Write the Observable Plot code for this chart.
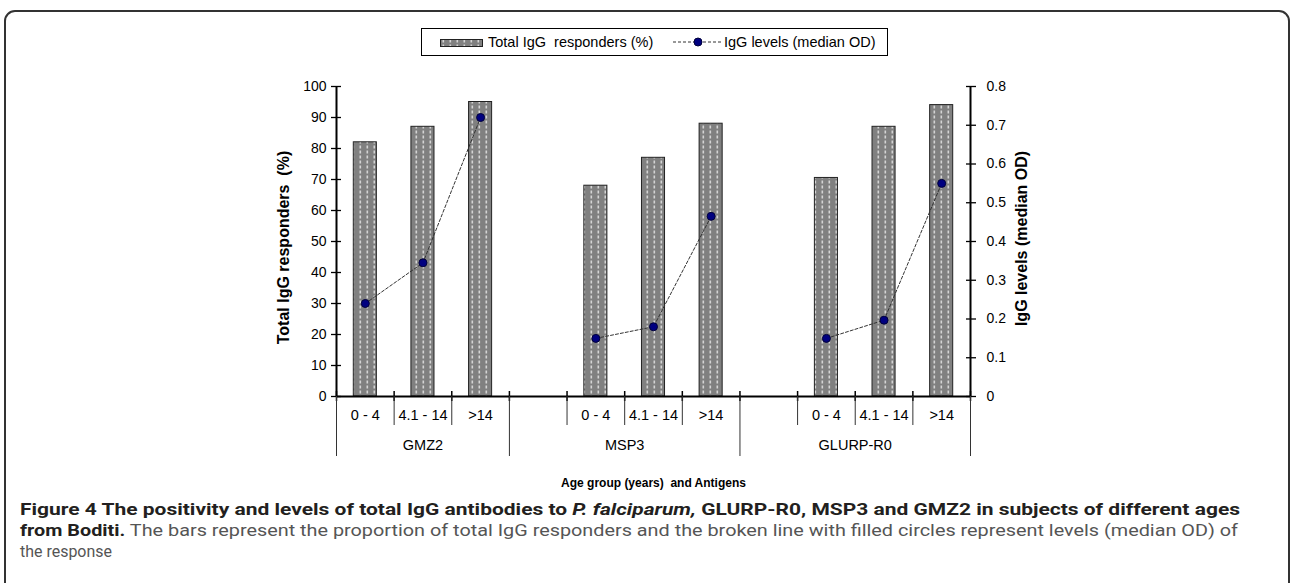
<!DOCTYPE html>
<html><head><meta charset="utf-8">
<script src="https://cdn.jsdelivr.net/npm/d3@7"></script>
<script src="https://cdn.jsdelivr.net/npm/@observablehq/plot@0.6"></script>
<style>
body{margin:0;width:1292px;height:583px;overflow:hidden;background:#fff;font-family:"Liberation Sans",Arial,sans-serif;position:relative}
#frame{position:absolute;left:4px;top:10px;width:1286px;height:640px;border:2px solid #333;border-radius:11px 11px 0 0;box-sizing:border-box}
#chart{position:absolute;left:0;top:0}
#legend{position:absolute;left:421px;top:28px;width:467px;height:28px;border:1px solid #000;box-sizing:border-box;font-size:14.5px;background:#fff}
#legend .t{position:absolute;top:5px;white-space:pre;color:#000;line-height:17px}
#legend svg{position:absolute}
#caption{position:absolute;left:0;top:495px}
</style></head><body>
<div id="frame"></div>
<div id="chart"></div>
<div id="legend">
  <svg style="left:18px;top:10px" width="43" height="8"><rect x="0.5" y="0.5" width="42" height="7" fill="url(#barpat)" stroke="#222" stroke-width="1"/></svg>
  <div class="t" style="left:66px">Total IgG  responders (%)</div>
  <svg style="left:251px;top:6px" width="50" height="14"><line x1="0" y1="7" x2="48" y2="7" stroke="#333" stroke-width="1" stroke-dasharray="3,2"/><circle cx="25" cy="7" r="4" fill="#000080" stroke="#00003a"/></svg>
  <div class="t" style="left:302px">IgG levels (median OD)</div>
</div>
<svg id="caption" width="1292" height="88" font-family="Roboto, 'Noto Sans', sans-serif" font-size="17">
  <text x="20" y="20" textLength="1220" lengthAdjust="spacingAndGlyphs" font-weight="bold" fill="#231f20">Figure 4 The positivity and levels of total IgG antibodies to <tspan font-style="italic">P. falciparum,</tspan> GLURP-R0, MSP3 and GMZ2 in subjects of different ages</text>
  <text x="20" y="41" textLength="1218" lengthAdjust="spacingAndGlyphs"><tspan font-weight="bold" fill="#231f20">from Boditi.</tspan><tspan fill="#555"> The bars represent the proportion of total IgG responders and the broken line with filled circles represent levels (median OD) of</tspan></text>
  <text x="20" y="62" textLength="92" lengthAdjust="spacingAndGlyphs" fill="#555">the response</text>
</svg>
<script>
// ---- data ----
const groups = ["GMZ2", "MSP3", "GLURP-R0"];
const ageGroups = ["0 - 4", "4.1 - 14", ">14"];
const responders = [82, 87, 95, 68, 77, 88, 70.5, 87, 94];          // Total IgG responders (%)
const levels = [0.24, 0.345, 0.72, 0.15, 0.18, 0.465, 0.15, 0.197, 0.55]; // IgG levels (median OD)
const leftTicks = [0, 10, 20, 30, 40, 50, 60, 70, 80, 90, 100];
const rightTicks = [0, 0.1, 0.2, 0.3, 0.4, 0.5, 0.6, 0.7, 0.8];
const yTitle = "Total IgG responders  (%)";
const y2Title = "IgG levels (median OD)";
const xTitle = "Age group (years)  and Antigens";

// ---- table ----
const K = 100 / 0.8; // right axis (OD) to left axis (%)
const rows = [];
groups.forEach((g, gi) => ageGroups.forEach((a, ai) => rows.push({
  group: g, age: a, slot: 4 * gi + ai, pct: responders[gi * 3 + ai], od: levels[gi * 3 + ai]
})));
const nSlots = 4 * groups.length - 1;
const groupStart = gi => gi === 0 ? 0 : 4 * gi - 1;
const groupEnd = gi => 4 * gi + 3;
const groupEdges = [0, ...groups.map((g, gi) => groupEnd(gi))];
const allEdges = d3.range(0, nSlots + 1);
const innerEdges = allEdges.filter(b => !groupEdges.includes(b));
const ageLabel = new Map(rows.map(d => [d.slot + 0.5, d.age]));
const groupCenters = groups.map((g, gi) => (groupStart(gi) + groupEnd(gi)) / 2);
const groupLabel = new Map(groups.map((g, gi) => [groupCenters[gi], g]));

const plot = Plot.plot({
  width: 1292, height: 500,
  marginLeft: 336, marginRight: 322, marginTop: 86, marginBottom: 104,
  x: {domain: [0, nSlots], label: null},
  y: {domain: [0, 100], label: null},
  style: {fontFamily: "'Liberation Sans', Arial, sans-serif", fontSize: "14px", color: "#000", background: "transparent"},
  marks: [
    Plot.rectY(rows, {x1: d => d.slot + 0.3, x2: d => d.slot + 0.7, y: "pct", fill: "url(#barpat)", stroke: "#222", strokeWidth: 1}),
    Plot.axisY({ticks: leftTicks, tickSize: 10, dx: 5, tickPadding: 5, tickFormat: d => String(d), strokeWidth: 1.3, fontSize: 14, label: null}),
    Plot.axisY({anchor: "right", ticks: rightTicks.map(v => v * K), tickSize: 10, dx: -5, tickPadding: 11,
      tickFormat: d => d === 0 ? "0" : (d / K).toFixed(1), strokeWidth: 1.3, fontSize: 14, label: null}),
    Plot.ruleX([0, nSlots], {strokeWidth: 2, stroke: "#000"}),
    Plot.ruleY([0], {strokeWidth: 2, stroke: "#000"}),
    Plot.axisX({ticks: allEdges, tickSize: 10, dy: -5, tickFormat: () => "", strokeWidth: 1.5, label: null}),
    Plot.axisX({ticks: innerEdges, tickSize: 29, tickFormat: () => "", stroke: "#333", strokeWidth: 1, label: null}),
    Plot.axisX({ticks: groupEdges, tickSize: 60, tickFormat: () => "", stroke: "#333", strokeWidth: 1, label: null}),
    Plot.axisX({ticks: [...ageLabel.keys()], tickSize: 0, tickPadding: 13, tickFormat: d => ageLabel.get(d), fontSize: 14.5, label: null}),
    Plot.axisX({ticks: groupCenters, tickSize: 0, tickPadding: 43, tickFormat: d => groupLabel.get(d), fontSize: 14.5, label: null}),
    Plot.line(rows, {x: d => d.slot + 0.5, y: d => d.od * K, z: "group", stroke: "#333", strokeWidth: 1, strokeDasharray: "3,2"}),
    Plot.dot(rows, {x: d => d.slot + 0.5, y: d => d.od * K, r: 4, fill: "#000080", stroke: "#00003a", strokeWidth: 1}),
    Plot.text([yTitle], {frameAnchor: "left", textAnchor: "middle", dx: -53, dy: 6, rotate: -90, fontWeight: "bold", fontSize: 16, text: d => d}),
    Plot.text([y2Title], {frameAnchor: "right", textAnchor: "middle", dx: 51, dy: -3, rotate: -90, fontWeight: "bold", fontSize: 16, text: d => d}),
    Plot.text([xTitle], {frameAnchor: "bottom", dy: 90, fontWeight: "bold", fontSize: 12, text: d => d})
  ]
});
plot.insertAdjacentHTML("afterbegin",
  '<defs><pattern id="barpat" patternUnits="userSpaceOnUse" width="7" height="5">' +
  '<rect width="7" height="5" fill="#808080"/><rect x="2.5" y="0.5" width="1.6" height="3" fill="#d4d4d4"/></pattern></defs>');
document.getElementById("chart").appendChild(plot);
</script>
</body></html>
